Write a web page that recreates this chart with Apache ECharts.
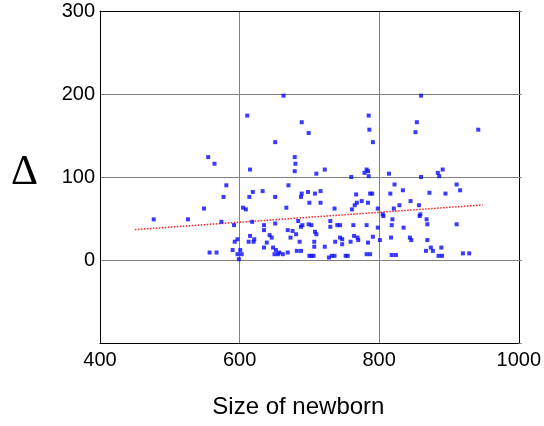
<!DOCTYPE html>
<html>
<head>
<meta charset="utf-8">
<script src="https://cdn.jsdelivr.net/npm/echarts@6/dist/echarts.min.js"></script>
<style>
  html, body { margin: 0; padding: 0; background: #fff; }
  #chart { width: 544px; height: 426px; }
</style>
</head>
<body>
<div id="chart"></div>
<script>
// x ticks / y ticks
var xTicks = [400, 600, 800, 1000];
var yTicks = [-100, 0, 100, 200, 300];

// scatter points [size of newborn, delta]
var points = [
  [555, 124], [564, 116], [663, 198], [611, 174], [689, 166], [699, 153], [651, 142],
  [679, 124], [680, 116], [679, 107], [615, 109], [785, 174], [786, 157], [791, 142],
  [722, 109], [710, 104], [760, 100], [782, 109], [784, 107], [779, 105], [785, 101],
  [814, 104], [860, 198], [854, 166], [852, 154], [942, 157], [891, 109], [884, 105],
  [886, 101], [860, 100],
  [477, 49], [526, 49], [549, 62], [574, 46], [557, 9], [567, 9],
  [581, 90], [577, 76], [633, 83], [619, 82], [614, 76], [670, 90], [689, 80], [688, 76],
  [698, 82], [605, 63], [609, 61], [667, 63], [592, 42], [618, 46], [635, 42], [635, 36],
  [669, 36], [684, 47], [690, 42], [699, 43], [676, 35], [681, 31], [688, 40], [643, 30],
  [646, 27], [673, 27], [615, 29], [621, 25], [597, 25], [593, 22], [613, 22], [620, 22],
  [639, 21], [686, 22], [635, 15], [648, 15], [590, 12], [601, 12], [597, 7], [599, 1],
  [652, 12], [655, 7], [657, 9], [662, 7], [669, 9], [650, 7], [682, 11], [688, 11],
  [700, 5], [651, 76], [651, 44], [603, 7],
  [716, 83], [700, 69], [716, 69], [736, 62], [761, 61], [765, 66], [768, 69], [775, 71],
  [784, 69], [787, 80], [790, 80], [798, 62], [816, 80], [821, 62], [829, 66], [805, 55],
  [806, 53], [730, 47], [730, 40], [703, 42], [740, 42], [744, 42], [763, 42], [782, 42],
  [798, 39], [818, 42], [708, 34], [710, 31], [707, 22], [707, 16], [722, 16], [737, 22],
  [744, 27], [747, 25], [747, 19], [759, 22], [764, 29], [769, 27], [770, 24], [784, 21],
  [791, 28], [817, 27], [801, 24], [703, 5], [706, 5], [728, 3], [732, 5], [736, 5],
  [752, 5], [755, 5], [782, 7], [787, 7], [818, 6], [824, 6], [708, 80], [767, 79],
  [819, 49], [822, 91],
  [834, 84], [872, 81], [895, 80], [911, 91], [916, 84], [845, 71], [857, 66], [859, 55],
  [858, 53], [868, 49], [869, 43], [911, 43], [835, 39], [844, 27], [846, 24], [869, 24],
  [874, 15], [889, 15], [877, 11], [867, 11], [885, 5], [890, 5], [920, 8], [929, 8]
];

// fitted trend line end points
var trend = [[450, 36.6], [948, 66.3]];

var chart = echarts.init(document.getElementById('chart'));

var axisFont = { fontFamily: 'Liberation Sans', fontSize: 20, color: '#000' };
var frameLine = { show: true, onZero: false, lineStyle: { color: '#000', width: 1 } };
var xRange = { min: xTicks[0], max: xTicks[xTicks.length - 1], interval: 200 };
var yRange = { min: yTicks[0], max: yTicks[yTicks.length - 1], interval: 100 };

chart.setOption({
  animation: false,
  grid: { left: 100, right: 23, top: 11, bottom: 83 },
  xAxis: [
    Object.assign({
      type: 'value',
      position: 'bottom',
      axisLine: frameLine,
      axisTick: { show: false },
      axisLabel: Object.assign({ margin: 7, formatter: function (v) { return String(v); } }, axisFont),
      splitLine: { lineStyle: { color: '#808080', width: 1 } },
      name: 'Size of newborn',
      nameLocation: 'middle',
      nameGap: 52,
      nameTextStyle: { fontFamily: 'Liberation Sans', fontSize: 24, color: '#000', padding: [0, 22, 0, 0] }
    }, xRange),
    Object.assign({
      type: 'value',
      position: 'top',
      axisLine: frameLine,
      axisTick: { show: false },
      axisLabel: { show: false },
      splitLine: { show: false }
    }, xRange)
  ],
  yAxis: [
    Object.assign({
      type: 'value',
      position: 'left',
      axisLine: frameLine,
      axisTick: { show: false },
      axisLabel: Object.assign({
        margin: 5,
        formatter: function (v) { return v < 0 ? '' : String(v); }
      }, axisFont),
      splitLine: { lineStyle: { color: '#808080', width: 1 } }
    }, yRange),
    Object.assign({
      type: 'value',
      position: 'right',
      axisLine: frameLine,
      axisTick: { show: true, inside: false, length: 3, lineStyle: { color: '#808080' } },
      axisLabel: { show: false },
      splitLine: { show: false }
    }, yRange)
  ],
  graphic: [{
    type: 'text',
    left: 11, top: 152,
    style: { text: 'Δ', font: '42px "Liberation Serif"', fill: '#000' }
  }],
  series: [
    {
      type: 'scatter',
      symbol: 'rect',
      symbolSize: 4,
      itemStyle: { color: '#0a0aff' },
      data: points,
      z: 3
    },
    {
      type: 'line',
      data: trend,
      showSymbol: false,
      lineStyle: { color: '#ff2020', width: 1.5, type: [1.5, 1.5] },
      z: 2
    }
  ]
});
</script>
</body>
</html>
